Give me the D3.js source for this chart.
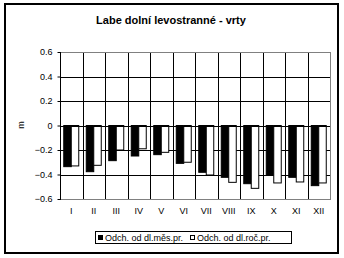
<!DOCTYPE html>
<html>
<head>
<meta charset="utf-8">
<script src="https://cdn.jsdelivr.net/npm/d3@7"></script>
<style>
  body { margin: 0; background: #fff; }
  text { font-family: "Liberation Sans", Arial, sans-serif; fill: #000; }
</style>
</head>
<body>
<div id="chart"></div>
<script>
const months = ["I", "II", "III", "IV", "V", "VI", "VII", "VIII", "IX", "X", "XI", "XII"];
const monthDev = [-0.336, -0.377, -0.287, -0.249, -0.238, -0.309, -0.382, -0.423, -0.475, -0.407, -0.423, -0.491];
const yearDev = [-0.33, -0.325, -0.2, -0.19, -0.219, -0.3, -0.404, -0.464, -0.513, -0.469, -0.461, -0.469];
const yTicks = [0.6, 0.4, 0.2, 0, -0.2, -0.4, -0.6];
const seriesNames = ["Odch. od dl.měs.pr.", "Odch. od dl.roč.pr."];

const W = 344, H = 258;
const plot = { left: 60, right: 330, top: 52, bottom: 199 };

const svg = d3.select("#chart").append("svg")
  .attr("width", W).attr("height", H);

// outer border
svg.append("rect")
  .attr("x", 5).attr("y", 4).attr("width", 333).attr("height", 249)
  .attr("fill", "#fff").attr("stroke", "#000").attr("stroke-width", 2);

svg.append("text")
  .attr("x", 171).attr("y", 24)
  .attr("text-anchor", "middle")
  .style("font-size", "11px").style("font-weight", "bold")
  .text("Labe dolní levostranné - vrty");

const x = d3.scaleBand().domain(months).range([plot.left, plot.right]);
const y = d3.scaleLinear().domain([-0.6, 0.6]).range([plot.bottom, plot.top]);

const g = svg.append("g");

// horizontal gridlines
g.selectAll(".hgrid")
  .data(yTicks.filter(d => Math.abs(d) < 0.6))
  .enter().append("line")
  .attr("x1", plot.left).attr("x2", plot.right)
  .attr("y1", d => Math.round(y(d)) + 0.5).attr("y2", d => Math.round(y(d)) + 0.5)
  .attr("stroke", "#000");

// vertical gridlines at category boundaries
g.selectAll(".vgrid")
  .data(months.slice(1))
  .enter().append("line")
  .attr("x1", d => Math.round(x(d)) + 0.5).attr("x2", d => Math.round(x(d)) + 0.5)
  .attr("y1", plot.top).attr("y2", plot.bottom)
  .attr("stroke", "#000");

// plot border (gray)
g.append("rect")
  .attr("x", plot.left + 0.5).attr("y", plot.top + 0.5)
  .attr("width", plot.right - plot.left).attr("height", plot.bottom - plot.top)
  .attr("fill", "none").attr("stroke", "#808080");

// bars
const bw = x.bandwidth() / 3;
const bars = months.map((m, i) => ({ m, a: monthDev[i], b: yearDev[i] }));

g.selectAll(".barA")
  .data(bars).enter().append("rect")
  .attr("x", d => x(d.m) + bw / 2)
  .attr("y", y(0))
  .attr("width", bw)
  .attr("height", d => y(d.a) - y(0))
  .attr("fill", "#000").attr("stroke", "#000");

g.selectAll(".barB")
  .data(bars).enter().append("rect")
  .attr("x", d => x(d.m) + bw / 2 + bw)
  .attr("y", y(0))
  .attr("width", bw)
  .attr("height", d => y(d.b) - y(0))
  .attr("fill", "#fff").attr("stroke", "#000");

// zero line and y axis line
g.append("line")
  .attr("x1", plot.left).attr("x2", plot.right)
  .attr("y1", Math.round(y(0)) + 0.5).attr("y2", Math.round(y(0)) + 0.5)
  .attr("stroke", "#000");
g.append("line")
  .attr("x1", plot.left + 0.5).attr("x2", plot.left + 0.5)
  .attr("y1", plot.top).attr("y2", plot.bottom + 1)
  .attr("stroke", "#000");

// y axis ticks and labels
const yAxis = d3.axisLeft(y).tickValues(yTicks).tickSize(3).tickPadding(5)
  .tickFormat(d => d === 0 ? "0" : d3.format(".1f")(d));
const ya = svg.append("g")
  .attr("transform", `translate(${plot.left + 0.5},0)`)
  .call(yAxis);
ya.select(".domain").remove();
ya.selectAll("line").attr("stroke", "#000");
ya.selectAll("text").style("font-size", "9px").style("font-family", "Liberation Sans, Arial, sans-serif");

svg.append("text")
  .attr("transform", `translate(24,125) rotate(-90)`)
  .attr("text-anchor", "middle")
  .style("font-size", "9px")
  .text("m");

// x labels
svg.selectAll(".xlab")
  .data(months).enter().append("text")
  .attr("x", d => x(d) + x.bandwidth() / 2)
  .attr("y", 214)
  .attr("text-anchor", "middle")
  .style("font-size", "9px")
  .text(d => d);

// legend
const lg = svg.append("g");
lg.append("rect")
  .attr("x", 95.5).attr("y", 231.5).attr("width", 196).attr("height", 12)
  .attr("fill", "#fff").attr("stroke", "#000");
const legendX = [98, 190];
seriesNames.forEach((name, i) => {
  lg.append("rect")
    .attr("x", legendX[i] + 0.5).attr("y", 235.5).attr("width", 4).attr("height", 4)
    .attr("fill", i === 0 ? "#000" : "#fff").attr("stroke", "#000");
  lg.append("text")
    .attr("x", legendX[i] + 7).attr("y", 241)
    .style("font-size", "9px")
    .text(name);
});
</script>
</body>
</html>
